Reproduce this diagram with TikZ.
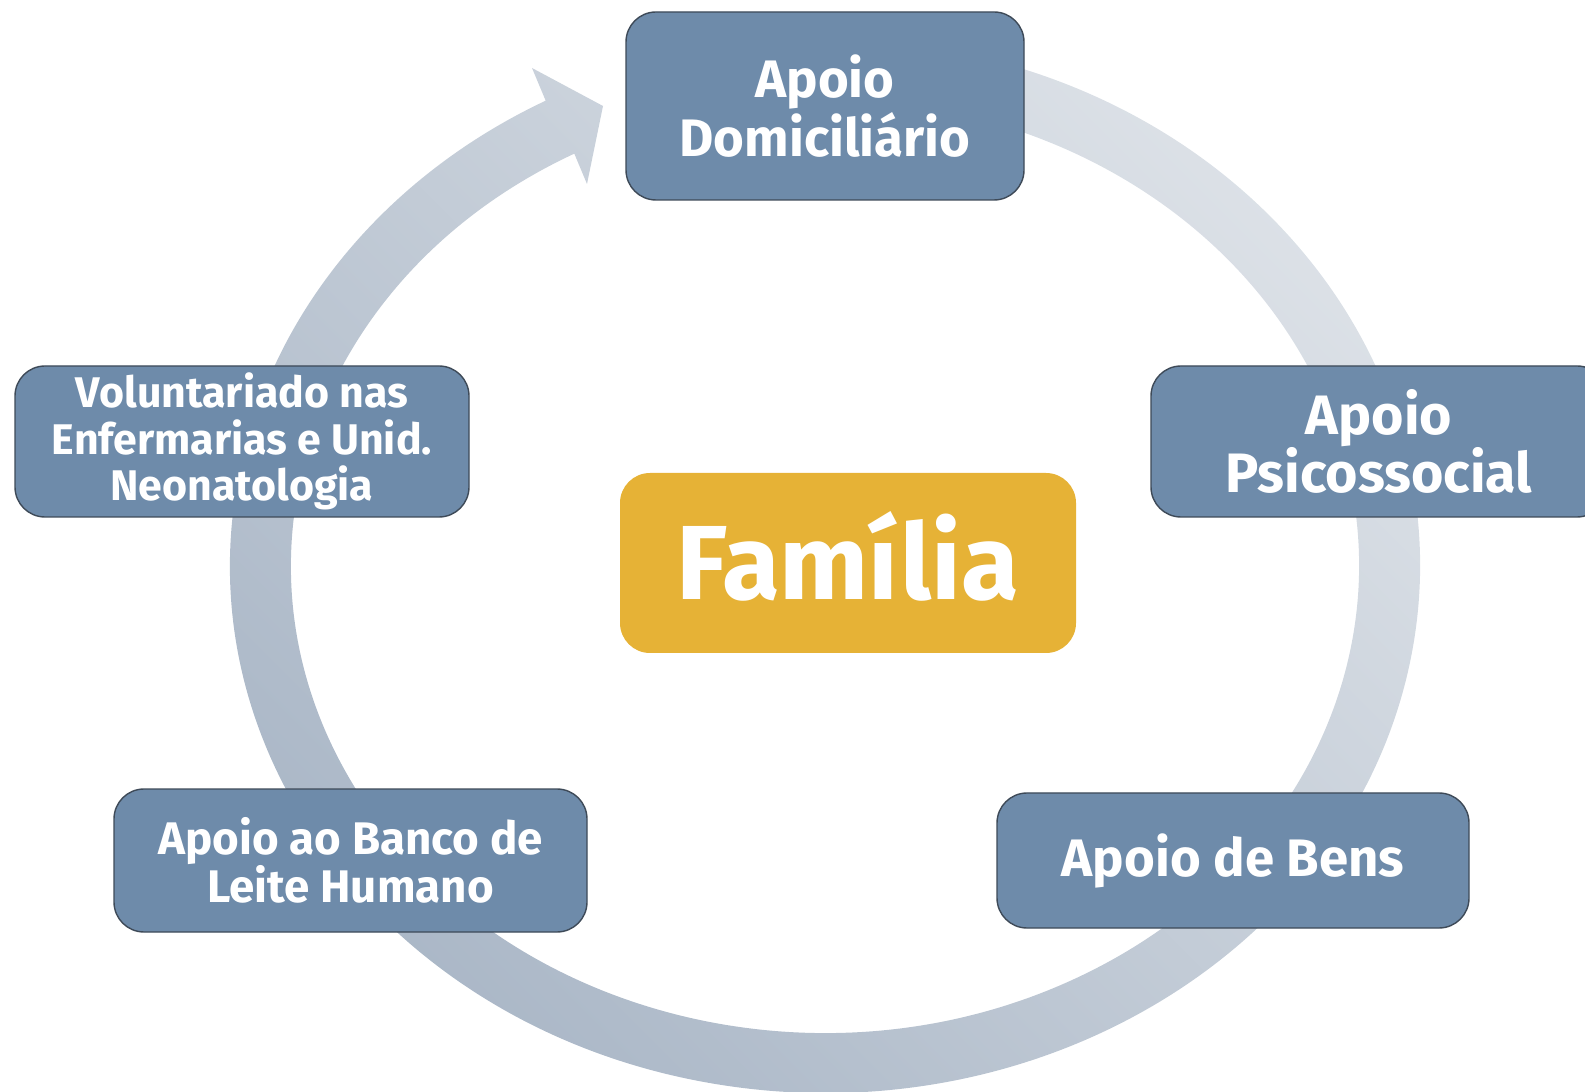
\documentclass[tikz,border=0pt]{standalone}
\usepackage{fontspec}
\setmainfont{Fira Sans}
\usepackage{tikz}
\usetikzlibrary{calc}
\usepackage{xcolor}
\definecolor{BoxBlue}{HTML}{6E8BAA}
\definecolor{BoxEdge}{HTML}{3E4A58}
\definecolor{Mustard}{HTML}{E6B236}
\definecolor{RingLight}{HTML}{DCE1E7}
\definecolor{RingDark}{HTML}{A9B6C6}

\begin{document}
\begin{tikzpicture}[
    bluebox/.style={rectangle,rounded corners=0.3cm,fill=BoxBlue,draw=BoxEdge,thin,
      text=white,align=center,inner sep=0pt},
    famibox/.style={rectangle,rounded corners=0.3cm,fill=Mustard,
      text=white,align=center,inner sep=0pt}]
    \useasboundingbox (0,0) rectangle (15.85,10.91);
    \coordinate (ring) at (8.25,5.25);

    % the circular arrow behind the boxes
    \shade[top color=RingLight,bottom color=RingDark,shading angle=-45]
      ($(ring)+(80:5.95 and 5.27)$) arc[start angle=80,end angle=-242,x radius=5.95,y radius=5.27]
      -- (5.32,10.23) -- (6.03,9.85) -- (5.87,9.07)
      -- ($(ring)+(-242:5.34 and 4.67)$) arc[start angle=-242,end angle=80,x radius=5.34,y radius=4.67]
      -- cycle;

    \node[bluebox,minimum width=3.98cm,minimum height=1.88cm,
      font=\fontsize{15}{16.6}\selectfont\bfseries] (dom) at (8.25,9.85) {Apoio\\Domiciliário};
    \node[bluebox,minimum width=4.56cm,minimum height=1.51cm,
      font=\fontsize{15.8}{16.6}\selectfont\bfseries] (psi) at (13.79,6.495) {Apoio\\Psicossocial};
    \node[bluebox,minimum width=4.54cm,minimum height=1.51cm,
      font=\fontsize{12.2}{13.3}\selectfont\bfseries] (vol) at (2.42,6.495) {Voluntariado nas\\Enfermarias e Unid.\\Neonatologia};
    \node[bluebox,minimum width=4.73cm,minimum height=1.43cm,
      font=\fontsize{13}{13.6}\selectfont\bfseries] (leite) at (3.505,2.305) {Apoio ao Banco de\\Leite Humano};
    \node[bluebox,minimum width=4.72cm,minimum height=1.35cm,
      font=\fontsize{15}{17}\selectfont\bfseries] (bens) at (12.33,2.305) {Apoio de Bens};

    \node[famibox,minimum width=4.56cm,minimum height=1.80cm,text height=20.6pt,text depth=0pt,
      font=\fontsize{30}{34}\selectfont\bfseries] (fam) at (8.48,5.28) {Família};
\end{tikzpicture}
\end{document}
